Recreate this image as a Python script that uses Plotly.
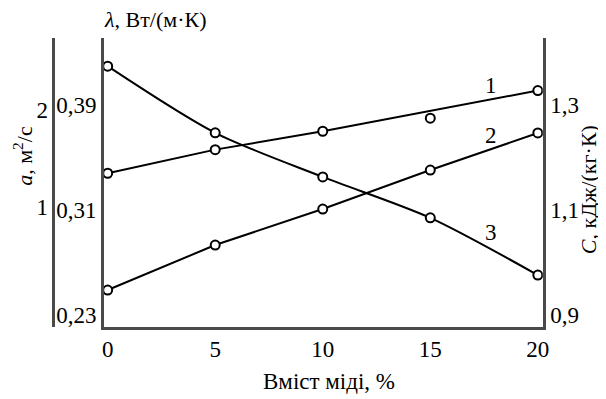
import plotly.graph_objects as go

# Copper content, %
copper = [0, 5, 10, 15, 20]

# Curve 1: thermal conductivity lambda, W/(m K)
lam_markers = [0.338, 0.356, 0.370, 0.380, 0.401]
lam_line_x = [0, 5, 10, 20]
lam_line = [0.338, 0.356, 0.370, 0.401]

# Curve 2: thermal diffusivity a (far-left axis units)
a_vals = [0.144, 0.608, 0.979, 1.381, 1.763]

# Curve 3: specific heat C, kJ/(kg K)
c_vals = [1.374, 1.247, 1.163, 1.085, 0.976]

lam_ticks = [0.23, 0.31, 0.39]
c_ticks = [0.9, 1.1, 1.3]
a_ticks = [1, 2]
x_ticks = [0, 5, 10, 15, 20]

FONT = "Liberation Serif, Times New Roman, serif"
AX = "#4a4a4a"
OFF = 8                      # page body margin in the browser
W, H = 606 - OFF, 399 - OFF
TOP, BOT = 38, 327           # plot area (reference pixels)
LEFT, RIGHT = 103, 548


def px(X):
    return (X - OFF) / W


def py(Y):
    return (BOT - Y) / (BOT - TOP)


fig = go.Figure()
line = dict(color="black", width=2)
mk = dict(symbol="circle", size=9, color="white", line=dict(color="black", width=2))

fig.add_trace(go.Scatter(x=lam_line_x, y=lam_line, mode="lines", line=line, yaxis="y"))
fig.add_trace(go.Scatter(x=copper, y=lam_markers, mode="markers", marker=mk, yaxis="y"))
fig.add_trace(go.Scatter(x=copper, y=a_vals, mode="lines+markers", line=line, marker=mk, yaxis="y3"))
fig.add_trace(go.Scatter(x=copper, y=c_vals, mode="lines+markers",
                         line=dict(color="black", width=2, shape="spline", smoothing=0.8),
                         marker=mk, yaxis="y2"))

tf = dict(family=FONT, size=23, color="black")

fig.update_layout(
    width=W, height=H,
    margin=dict(l=0, r=0, t=TOP - OFF, b=H - (BOT - OFF), pad=0),
    paper_bgcolor="white", plot_bgcolor="white",
    showlegend=False, hovermode=False,
    separators=", ",
    font=tf,
    xaxis=dict(domain=[px(LEFT), px(RIGHT)], range=[-0.183, 20.23], tickvals=x_ticks,
               showline=True, linecolor=AX, linewidth=2.5, showgrid=False, zeroline=False,
               ticks="", tickfont=tf),
    yaxis=dict(range=[0.22086, 0.44105], tickvals=lam_ticks, tickformat=".2f",
               showline=True, linecolor=AX, linewidth=2.5, showgrid=False, zeroline=False,
               ticks="", tickfont=tf, anchor="x"),
    yaxis2=dict(range=[0.87714, 1.42762], tickvals=c_ticks, tickformat=".1f", overlaying="y",
                side="right", anchor="x", showline=True, linecolor=AX, linewidth=2.5,
                showgrid=False, zeroline=False, ticks="", tickfont=tf),
    yaxis3=dict(range=[-0.237, 2.742], tickvals=a_ticks, overlaying="y", side="left",
                anchor="free", position=px(52), showline=True, linecolor=AX, linewidth=2.5,
                showgrid=False, zeroline=False, ticks="", tickfont=tf),
)

ann = [
    dict(text="<i>λ</i>, Вт/(м·К)", x=px(155), y=py(19), xref="paper", yref="paper",
         font=dict(family=FONT, size=22, color="black")),
    dict(text="Вміст міді, %", x=px(331), y=py(381), xref="paper", yref="paper",
         font=dict(family=FONT, size=23, color="black")),
    dict(text="<i>a</i>, м<sup>2</sup>/с", x=px(21), y=py(156), xref="paper", yref="paper",
         textangle=-90, font=dict(family=FONT, size=22, color="black")),
    dict(text="<i>C</i>, кДж/(кг·К)", x=px(594), y=py(190), xref="paper", yref="paper",
         textangle=-90, font=dict(family=FONT, size=22, color="black")),
    dict(text="1", x=17.8, y=0.405, xref="x", yref="y", font=tf),
    dict(text="2", x=17.8, y=0.367, xref="x", yref="y", font=tf),
    dict(text="3", x=17.8, y=0.293, xref="x", yref="y", font=tf),
]
for a in ann:
    fig.add_annotation(showarrow=False, xanchor="center", yanchor="middle", **a)

fig.write_html("out.html")
